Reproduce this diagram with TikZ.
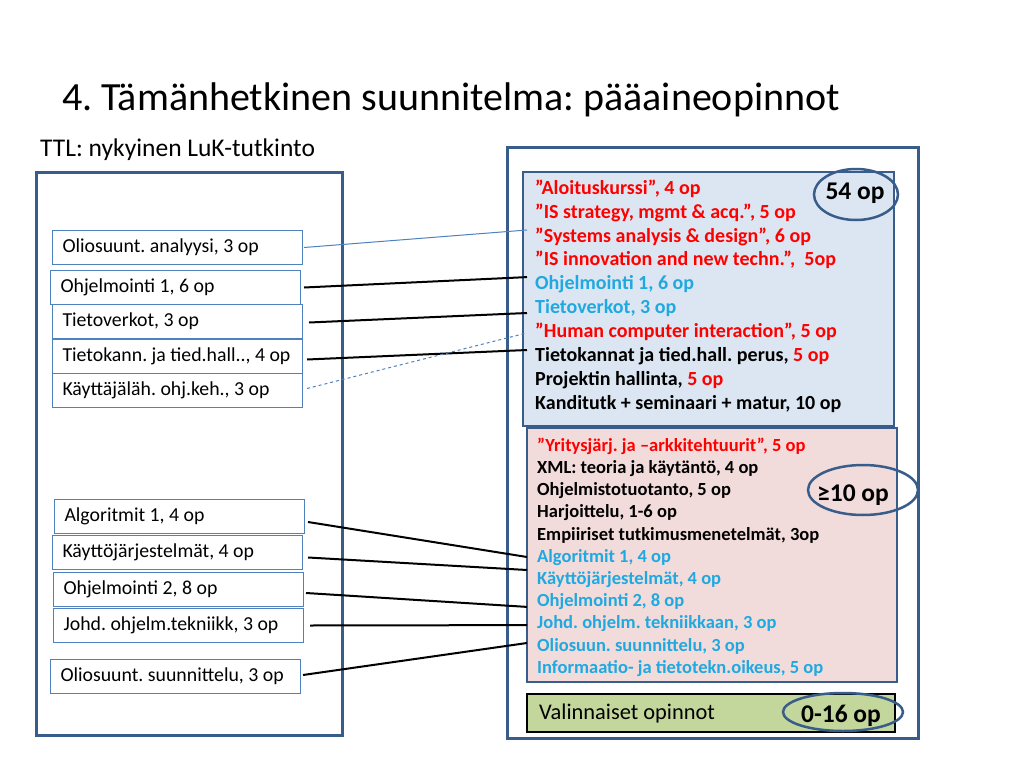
\documentclass[tikz,border=0pt]{standalone}
\usepackage{fontspec}
\setmainfont{Carlito}
\usetikzlibrary{shapes.geometric}
\definecolor{frame}{RGB}{56,93,138}
\definecolor{lbox}{RGB}{79,129,189}
\definecolor{bluefill}{RGB}{220,230,242}
\definecolor{pinkfill}{RGB}{242,220,219}
\definecolor{greenfill}{RGB}{195,214,155}
\definecolor{cyantext}{RGB}{32,168,224}
\definecolor{redtext}{RGB}{255,0,0}
\newcommand\natsp{\spaceskip=0pt\xspaceskip=0pt\relax}
\frenchspacing
\begin{document}
\frenchspacing
\begin{tikzpicture}[x=1bp,y=-1bp,
  outerframe/.style={draw=frame,line width=3bp},
  panel/.style={draw=frame,line width=2.5bp},
  lbx/.style={draw=lbox,line width=1bp,fill=white,anchor=north west,text width=230bp,inner xsep=10bp,inner ysep=0pt,minimum height=34bp,align=left,font=\fontsize{19.8bp}{21bp}\selectfont},
  rl/.style={anchor=west,inner sep=0pt,text height=0.75em,text depth=0.2em,font=\fontsize{20bp}{22bp}\selectfont\bfseries},
  pl/.style={anchor=west,inner sep=0pt,text height=0.75em,text depth=0.2em,font=\fontsize{18.5bp}{20bp}\selectfont\bfseries},
  red/.style={text=redtext},
  cy/.style={text=cyantext},
  blk/.style={text=black},
  oval/.style={draw=frame,line width=2.5bp,ellipse,inner sep=0pt},
  ovaltext/.style={font=\fontsize{25.5bp}{26bp}\selectfont\bfseries,inner sep=0pt},
  link/.style={draw=black,line width=2bp},
  thinlink/.style={draw=lbox,line width=1bp},
]
\useasboundingbox (0,0) rectangle (1024,768);
\fill[white] (0,0) rectangle (1024,768);

% title
\node[anchor=base west,inner sep=0pt,font=\fontsize{40bp}{44bp}\selectfont] (title) at (62,110) {4. Tämänhetkinen suunnitelma: pääaineopinnot};
\node[anchor=base west,inner sep=0pt,font=\fontsize{25.5bp}{28bp}\selectfont] (ttl) at (40,156) {TTL: nykyinen LuK-tutkinto};

% frames
\draw[outerframe] (36,172) rectangle (342,735);
\draw[outerframe] (507,147) rectangle (918,738);
\draw[panel,fill=bluefill] (523,172) rectangle (894,426);
\draw[panel,fill=pinkfill] (527,428) rectangle (897,682);
\draw[draw=black,line width=1.5bp,fill=greenfill] (527,694) rectangle (895,732);

% left boxes
\node[lbx] (lb1) at (52,230) {\natsp Oliosuunt. analyysi, 3 op};
\node[lbx] (lb2) at (50,270) {\natsp Ohjelmointi 1, 6 op};
\node[lbx] (lb3) at (52,304) {\natsp Tietoverkot, 3 op};
\node[lbx] (lb4) at (52,339) {\natsp Tietokann. ja tied.hall.., 4 op};
\node[lbx] (lb5) at (52,373) {\natsp Käyttäjäläh. ohj.keh., 3 op};
\node[lbx] (lb6) at (54,499) {\natsp Algoritmit 1, 4 op};
\node[lbx] (lb7) at (52,535) {\natsp Käyttöjärjestelmät, 4 op};
\node[lbx] (lb8) at (53,572) {\natsp Ohjelmointi 2, 8 op};
\node[lbx] (lb9) at (53,608) {\natsp Johd. ohjelm.tekniikk, 3 op};
\node[lbx] (lb10) at (50,659) {\natsp Oliosuunt. suunnittelu, 3 op};

% blue panel lines
\node[rl,red] (r1) at (535,191.5) {”Aloituskurssi”, 4 op};
\node[rl,red] (r2) at (535,215.4) {”IS strategy, mgmt \& acq.”, 5 op};
\node[rl,red] (r3) at (535,239.3) {”Systems analysis \& design”, 6 op};
\node[rl,red] (r4) at (535,263.2) {”IS innovation and new techn.”,\ \ 5op};
\node[rl,cy] (r5) at (535,287.1) {Ohjelmointi 1, 6 op};
\node[rl,cy] (r6) at (535,311.0) {Tietoverkot, 3 op};
\node[rl,red] (r7) at (535,334.9) {”Human computer interaction”, 5 op};
\node[rl,blk] (r8) at (535,358.8) {Tietokannat ja tied.hall. perus, \textcolor{redtext}{5 op}};
\node[rl,blk] (r9) at (535,382.7) {Projektin hallinta, \textcolor{redtext}{5 op}};
\node[rl,blk] (r10) at (535,406.6) {Kanditutk + seminaari + matur, 10 op};

% pink panel lines
\node[pl,red] (p1) at (537,448.5) {”Yritysjärj. ja –arkkitehtuurit”, 5 op};
\node[pl,blk] (p2) at (537,470.7) {XML: teoria ja käytäntö, 4 op};
\node[pl,blk] (p3) at (537,492.9) {Ohjelmistotuotanto, 5 op};
\node[pl,blk] (p4) at (537,515.1) {Harjoittelu, 1-6 op};
\node[pl,blk] (p5) at (537,537.3) {Empiiriset tutkimusmenetelmät, 3op};
\node[pl,cy] (p6) at (537,559.5) {Algoritmit 1, 4 op};
\node[pl,cy] (p7) at (537,581.7) {Käyttöjärjestelmät, 4 op};
\node[pl,cy] (p8) at (537,603.9) {Ohjelmointi 2, 8 op};
\node[pl,cy] (p9) at (537,626.1) {Johd. ohjelm. tekniikkaan, 3 op};
\node[pl,cy] (p10) at (537,648.3) {Oliosuun. suunnittelu, 3 op};
\node[pl,cy] (p11) at (537,670.5) {Informaatio- ja tietotekn.oikeus, 5 op};

% green box text
\node[anchor=west,inner sep=0pt,font=\fontsize{22.4bp}{24bp}\selectfont] (valinn) at (539,714) {Valinnaiset opinnot};

% ovals
\node[oval,minimum width=84bp,minimum height=51bp] (o1) at (856,194.5) {};
\node[ovaltext] (o1t) at (855,193) {54 op};
\node[oval,minimum width=110bp,minimum height=50bp] (o2) at (863,490) {};
\node[ovaltext] (o2t) at (853,495) {≥10 op};
\node[oval,minimum width=120bp,minimum height=38bp] (o3) at (843,712) {};
\node[ovaltext] (o3t) at (841,716) {0-16 op};

% connectors
\draw[thinlink] ([xshift=1bp]lb1.east) -- ([shift={(-8bp,9.3bp)}]r3.west);
\draw[link] ([xshift=3bp]lb2.east) -- ([shift={(-8bp,10bp)}]r5.west);
\draw[link] ([shift={(6bp,-1bp)}]lb3.east) -- ([shift={(-8bp,-2bp)}]r6.west);
\draw[link] ([shift={(4bp,-3bp)}]lb4.east) -- ([shift={(-8bp,8.8bp)}]r8.west);
\draw[thinlink,dashed] ([shift={(4bp,2bp)}]lb5.east) -- ([shift={(-8bp,2bp)}]r7.west);
\draw[link] ([shift={(3bp,-5.5bp)}]lb6.east) -- ([shift={(-10bp,2.5bp)}]p6.west);
\draw[link] ([shift={(5bp,-5bp)}]lb7.east) -- ([shift={(-10bp,11.7bp)}]p7.west);
\draw[link] ([shift={(2bp,-3.5bp)}]lb8.east) -- ([shift={(-10bp,-3bp)}]p8.west);
\draw[link] ([xshift=6bp]lb9.east) -- ([shift={(-10bp,1bp)}]p9.west);
\draw[link] ([shift={(2bp,1.5bp)}]lb10.east) -- ([shift={(-10bp,5.3bp)}]p10.west);
\end{tikzpicture}
\end{document}
